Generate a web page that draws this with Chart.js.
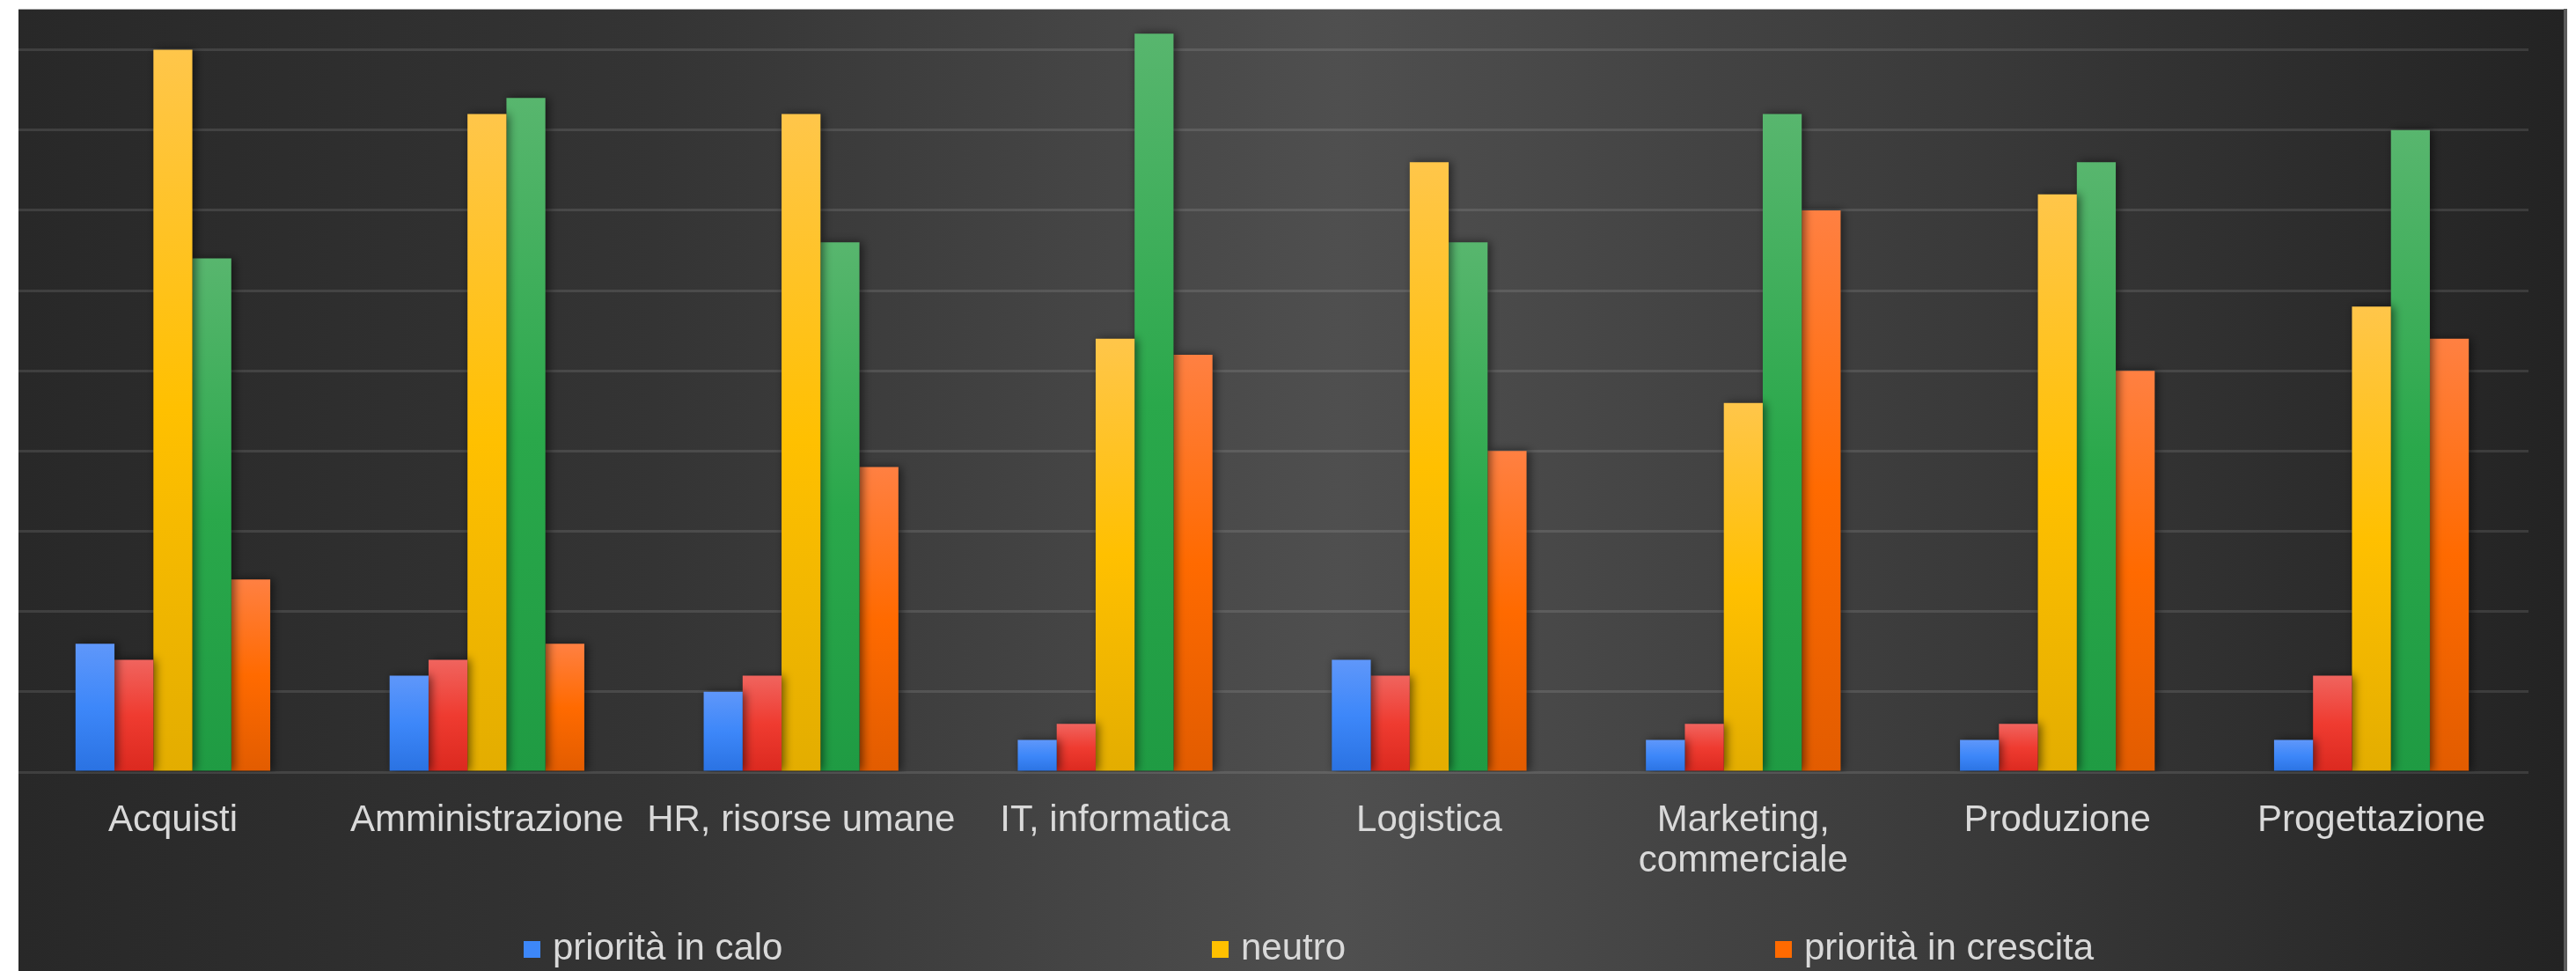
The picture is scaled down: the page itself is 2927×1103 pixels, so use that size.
<!DOCTYPE html>
<html lang="it">
<head>
<meta charset="utf-8">
<title>Priorità per area aziendale</title>
<script src="https://cdn.jsdelivr.net/npm/chart.js@4.4.1/dist/chart.umd.min.js"></script>
<style>
  html, body { margin: 0; padding: 0; background: #ffffff; overflow: hidden; }
  canvas { display: block; }
</style>
</head>
<body>
<canvas id="chart" width="2927" height="1103"></canvas>
<script>
// Categorie (aree aziendali)
const categories = [
  'Acquisti', 'Amministrazione', 'HR, risorse umane', 'IT, informatica',
  'Logistica', ['Marketing,', 'commerciale'], 'Produzione', 'Progettazione'
];

// Numero di risposte per serie
const prioritaInCalo      = [8, 6, 5, 2, 7, 2, 2, 2];
const serie2              = [7, 7, 6, 3, 6, 3, 3, 6];
const neutro              = [45, 41, 41, 27, 38, 23, 36, 29];
const serie4              = [32, 42, 33, 46, 33, 41, 38, 40];
const prioritaInCrescita  = [12, 8, 19, 26, 20, 35, 25, 27];

const seriesLabels = ['priorità in calo', 'serie 2', 'neutro', 'serie 4', 'priorità in crescita'];
const seriesValues = [prioritaInCalo, serie2, neutro, serie4, prioritaInCrescita];

// Asse y: passo delle griglie
const yStep = 5;
const yMax = 47.5;

// Gradienti verticali per ogni serie: [alto, centro, basso]
const palette = [
  ['#5f97fa', '#3d87f9', '#2a72e2'],
  ['#f0645e', '#ef3b30', '#db291f'],
  ['#ffc64a', '#ffc000', '#e3ad00'],
  ['#58b66e', '#2aa84b', '#1f9b43'],
  ['#ff8042', '#ff6a00', '#e25c00']
];

const FONT = '"Liberation Sans", Arial, sans-serif';
const TEXT_COLOR = '#d9d9d9';

function barGradient(colors) {
  return (ctx) => {
    const chart = ctx.chart;
    if (ctx.type !== 'data' || !chart.chartArea || !chart.scales.y) return colors[1];
    const y = chart.scales.y;
    const top = y.getPixelForValue(ctx.raw);
    const bottom = y.getPixelForValue(0);
    if (!isFinite(top) || !isFinite(bottom) || bottom - top < 1) return colors[1];
    const g = chart.ctx.createLinearGradient(0, top, 0, bottom);
    g.addColorStop(0, colors[0]);
    g.addColorStop(0.5, colors[1]);
    g.addColorStop(1, colors[2]);
    return g;
  };
}

// Sfondo scuro con sfumatura orizzontale e cornice
const backdrop = {
  id: 'backdrop',
  beforeDraw(chart) {
    const c = chart.ctx;
    const W = chart.width, H = chart.height;
    c.save();
    c.fillStyle = '#ffffff';
    c.fillRect(0, 0, W, H);
    const x0 = 21, x1 = 2913, y0 = 11;
    const g = c.createLinearGradient(x0, 0, x1, 0);
    g.addColorStop(0, '#282828');
    g.addColorStop(0.25, '#343434');
    g.addColorStop(0.52, '#4f4f4f');
    g.addColorStop(0.72, '#3e3e3e');
    g.addColorStop(1, '#232323');
    c.fillStyle = g;
    c.fillRect(x0, y0, x1 - x0, H - y0);
    c.restore();
  },
  afterDraw(chart) {
    const c = chart.ctx;
    const H = chart.height;
    c.save();
    c.fillStyle = '#ffffff';
    c.fillRect(0, 0, 21, H);
    c.fillRect(2917, 0, chart.width - 2917, H);
    c.fillRect(0, 0, chart.width, 10);
    c.fillStyle = '#a8a8a8';
    c.fillRect(21, 10, 2896, 1);
    c.fillStyle = '#5c5c5c';
    c.fillRect(2913, 10, 4, H - 10);
    c.restore();
  }
};

// Ombra morbida sotto le barre
const barShadow = {
  id: 'barShadow',
  beforeDatasetDraw(chart) {
    const c = chart.ctx;
    c.save();
    c.shadowColor = 'rgba(0,0,0,0.55)';
    c.shadowBlur = 10;
    c.shadowOffsetX = 3;
    c.shadowOffsetY = 0;
  },
  afterDatasetDraw(chart) {
    chart.ctx.restore();
  }
};

// Legenda in basso, disposta a colonne
const legendEntries = [
  { dataset: 0, x: 595 },
  { dataset: 2, x: 1377 },
  { dataset: 4, x: 2017 }
];
const bottomLegend = {
  id: 'bottomLegend',
  afterDraw(chart) {
    const c = chart.ctx;
    c.save();
    c.font = '42px ' + FONT;
    c.textBaseline = 'alphabetic';
    c.textAlign = 'left';
    legendEntries.forEach(e => {
      const ds = chart.data.datasets[e.dataset];
      c.fillStyle = palette[e.dataset][1];
      c.fillRect(e.x, 1069, 19, 19);
      c.fillStyle = TEXT_COLOR;
      c.fillText(ds.label, e.x + 33, 1090);
    });
    c.restore();
  }
};

new Chart(document.getElementById('chart'), {
  type: 'bar',
  data: {
    labels: categories,
    datasets: seriesValues.map((vals, i) => ({
      label: seriesLabels[i],
      data: vals,
      backgroundColor: barGradient(palette[i]),
      borderWidth: 0,
      categoryPercentage: 0.62,
      barPercentage: 1.0
    }))
  },
  options: {
    responsive: false,
    devicePixelRatio: 1,
    animation: false,
    layout: { padding: { left: 18, right: 54, top: 11, bottom: 0 } },
    plugins: {
      legend: { display: false },
      tooltip: { enabled: false }
    },
    scales: {
      x: {
        grid: { display: false },
        border: { display: false },
        ticks: {
          color: TEXT_COLOR,
          font: { family: FONT, size: 42, lineHeight: 1.1 },
          padding: 24,
          maxRotation: 0,
          minRotation: 0,
          autoSkip: false
        },
        afterFit(scale) { scale.height = 226; }
      },
      y: {
        min: 0,
        max: yMax,
        border: { display: false },
        grid: { color: 'rgba(255,255,255,0.11)', lineWidth: 3, drawTicks: false },
        ticks: { display: false, stepSize: yStep, includeBounds: false },
        afterFit(scale) { scale.width = 0; }
      }
    }
  },
  plugins: [backdrop, barShadow, bottomLegend]
});
</script>
</body>
</html>
